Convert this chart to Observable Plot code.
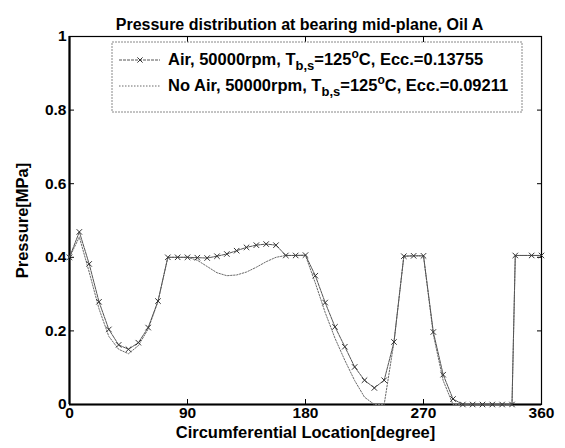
<!DOCTYPE html>
<html>
<head>
<meta charset="utf-8">
<script src="https://cdn.jsdelivr.net/npm/d3@7"></script>
<script src="https://cdn.jsdelivr.net/npm/@observablehq/plot@0.6"></script>
<style>
  html, body { margin: 0; padding: 0; background: #fff; }
  svg { font-family: "Liberation Sans", Arial, sans-serif; }
</style>
</head>
<body>
<div id="chart"></div>
<script>
const title = "Pressure distribution at bearing mid-plane, Oil A";
const xLabel = "Circumferential Location[degree]";
const yLabel = "Pressure[MPa]";
const xTicks = [0, 90, 180, 270, 360];
const yTicks = [0, 0.2, 0.4, 0.6, 0.8, 1];

const angles = [0, 7.5, 15, 22.5, 30, 37.5, 45, 52.5, 60, 67.5, 75, 82.5, 90, 97.5, 105, 112.5, 120, 127.5, 135, 142.5, 150, 157.5, 165, 172.5, 180, 187.5, 195, 202.5, 210, 217.5, 225, 232.5, 240, 247.5, 255, 262.5, 270, 277.5, 285, 292.5, 300, 307.5, 315, 322.5, 330, 337.5, 340, 352.5, 360];

const airPressure = [0.40, 0.469, 0.382, 0.279, 0.204, 0.162, 0.150, 0.168, 0.209, 0.281, 0.400, 0.400, 0.400, 0.399, 0.398, 0.403, 0.409, 0.418, 0.427, 0.433, 0.436, 0.433, 0.405, 0.405, 0.406, 0.350, 0.277, 0.211, 0.157, 0.102, 0.066, 0.045, 0.066, 0.170, 0.403, 0.404, 0.404, 0.197, 0.081, 0.015, 0, 0, 0, 0, 0, 0, 0.405, 0.405, 0.405];

const noAirPressure = [0.40, 0.455, 0.360, 0.260, 0.185, 0.150, 0.138, 0.160, 0.205, 0.280, 0.400, 0.400, 0.400, 0.392, 0.375, 0.358, 0.350, 0.352, 0.360, 0.373, 0.388, 0.400, 0.405, 0.405, 0.405, 0.330, 0.250, 0.180, 0.120, 0.065, 0.020, 0, 0, 0.170, 0.403, 0.404, 0.404, 0.190, 0.065, 0, 0, 0, 0, 0, 0, 0, 0.405, 0.405, 0.405];

const legendLabels = [
  {pre: "Air, 50000rpm, T", sub: "b,s", mid: "=125", sup: "o", post: "C, Ecc.=0.13755"},
  {pre: "No Air, 50000rpm, T", sub: "b,s", mid: "=125", sup: "o", post: "C, Ecc.=0.09211"}
];

const air = angles.map((a, i) => ({a, p: airPressure[i]}));
const noAir = angles.map((a, i) => ({a, p: noAirPressure[i]}));
const fmt = d => String(d);
const blank = () => "";

const plot = Plot.plot({
  width: 565,
  height: 448,
  marginLeft: 69,
  marginRight: 24,
  marginTop: 36,
  marginBottom: 44,
  style: {fontFamily: "'Liberation Sans', Arial, sans-serif", fontSize: "15px", fontWeight: "bold", color: "black", background: "white"},
  x: {domain: [0, 360]},
  y: {domain: [0, 1]},
  marks: [
    Plot.frame({stroke: "black", strokeWidth: 1.2}),
    Plot.ruleX([0], {stroke: "black", strokeWidth: 2.2}),
    Plot.ruleY([0], {stroke: "black", strokeWidth: 2.2}),
    Plot.axisX({anchor: "bottom", ticks: xTicks, tickFormat: fmt, tickSize: -5, tickPadding: 7, label: null, fontSize: 15.5, fontWeight: "bold"}),
    Plot.axisX({anchor: "top", ticks: xTicks, tickFormat: blank, tickSize: -5, label: null}),
    Plot.axisY({anchor: "left", ticks: yTicks, tickFormat: fmt, tickSize: -5, tickPadding: 8, label: null, fontSize: 15.5, fontWeight: "bold"}),
    Plot.axisY({anchor: "right", ticks: yTicks, tickFormat: blank, tickSize: -5, label: null}),
    Plot.line(noAir, {x: "a", y: "p", stroke: "#6a6a6a", strokeWidth: 1, strokeDasharray: "1.5,1.5"}),
    Plot.line(air, {x: "a", y: "p", stroke: "#555", strokeWidth: 1, strokeDasharray: "3,1"}),
    Plot.dot(air, {x: "a", y: "p", symbol: "times", r: 2.6, stroke: "#333", strokeWidth: 1}),
    Plot.text([title], {frameAnchor: "top", dy: -18, dx: -6, fontSize: 16, fontWeight: "bold", fill: "black"}),
    Plot.text([xLabel], {frameAnchor: "bottom", dy: 33, fontSize: 16.5, fontWeight: "bold", fill: "black"}),
    Plot.text([yLabel], {frameAnchor: "left", textAnchor: "middle", dx: -47, rotate: -90, fontSize: 16.5, fontWeight: "bold", fill: "black"})
  ]
});

document.getElementById("chart").appendChild(plot);

// Legend box
const svg = d3.select(plot);
const lg = svg.append("g").attr("class", "legend").attr("text-anchor", "start");
const bx = 112, by = 42, bw = 410, bh = 70;
lg.append("rect").attr("x", bx).attr("y", by).attr("width", bw).attr("height", bh)
  .attr("fill", "white").attr("stroke", "#888").attr("stroke-width", 1).attr("stroke-dasharray", "2,1");
const rows = [
  {y: by + 23, stroke: "#555", dash: "3,1", marker: true},
  {y: by + 49, stroke: "#6a6a6a", dash: "1.5,1.5", marker: false}
];
rows.forEach((r, i) => {
  lg.append("line").attr("x1", bx + 7).attr("x2", bx + 48).attr("y1", r.y - 5).attr("y2", r.y - 5)
    .attr("stroke", r.stroke).attr("stroke-dasharray", r.dash);
  if (r.marker) {
    const cx = bx + 28, cy = r.y - 5, s = 2.6;
    lg.append("path").attr("d", `M${cx - s},${cy - s}L${cx + s},${cy + s}M${cx - s},${cy + s}L${cx + s},${cy - s}`)
      .attr("stroke", "#333").attr("fill", "none");
  }
  const L = legendLabels[i];
  const t = lg.append("text").attr("x", bx + 56).attr("y", r.y).attr("text-anchor", "start")
    .attr("font-size", 16.5).attr("font-weight", "bold").attr("fill", "black")
    .attr("font-family", "'Liberation Sans', Arial, sans-serif");
  t.append("tspan").text(L.pre);
  t.append("tspan").attr("dy", 5).attr("font-size", 13).text(L.sub);
  t.append("tspan").attr("dy", -5).text(L.mid);
  t.append("tspan").attr("dy", -7).attr("font-size", 12).text(L.sup);
  t.append("tspan").attr("dy", 7).text(L.post);
});
</script>
</body>
</html>
